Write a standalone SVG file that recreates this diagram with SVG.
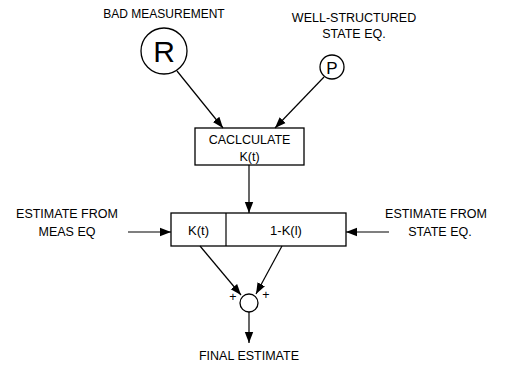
<svg xmlns="http://www.w3.org/2000/svg" width="505" height="369" viewBox="0 0 505 369">
<defs>
<marker id="ah" viewBox="0 0 10 10" refX="10" refY="5" markerWidth="11" markerHeight="11" markerUnits="userSpaceOnUse" orient="auto">
<path d="M0,1.2 L10,5 L0,8.8 Z" fill="#000"/>
</marker>
</defs>
<style>
text{font-family:"Liberation Sans",Arial,sans-serif;font-size:12.5px;fill:#000}
.c{text-anchor:middle}
.s{fill:#fff;stroke:#000;stroke-width:1.3}
.l{stroke:#000;stroke-width:1.2;fill:none;marker-end:url(#ah)}
</style>
<rect width="505" height="369" fill="#fff"/>
<g id="bad">
<text class="c" x="164" y="18" style="font-size:12px">BAD MEASUREMENT</text>
</g>
<g id="R">
<circle class="s" cx="164" cy="51" r="23"/>
<text class="c" x="164" y="62" style="font-size:30px">R</text>
</g>
<g id="wellstructured">
<text class="c" x="354" y="22">WELL-STRUCTURED</text>
<text class="c" x="354" y="38">STATE EQ.</text>
</g>
<g id="P">
<circle class="s" cx="332" cy="67" r="12"/>
<text class="c" x="332" y="73.5" style="font-size:17px">P</text>
</g>
<g id="calc">
<rect class="s" x="195" y="128" width="109" height="37"/>
<text class="c" x="249.5" y="143.5">CACLCULATE</text>
<text class="c" x="249.5" y="160.5">K(t)</text>
</g>
<g id="gainbox">
<rect class="s" x="171" y="213" width="175" height="33"/>
<line x1="226" y1="213" x2="226" y2="246" stroke="#000" stroke-width="1.2"/>
<text class="c" x="198.5" y="234.5" style="font-size:13px">K(t)</text>
<text class="c" x="286" y="234.5" style="font-size:13px">1-K(l)</text>
</g>
<g id="measlabel">
<text class="c" x="67" y="218">ESTIMATE FROM</text>
<text class="c" x="67" y="236">MEAS EQ</text>
</g>
<g id="statelabel">
<text class="c" x="436" y="218">ESTIMATE FROM</text>
<text class="c" x="440" y="236">STATE EQ.</text>
</g>
<g id="sum">
<circle class="s" cx="249" cy="303" r="9"/>
<text class="c" x="233" y="301">+</text>
<text class="c" x="266" y="299">+</text>
</g>
<g id="final">
<text class="c" x="249" y="360">FINAL ESTIMATE</text>
</g>
<g id="connectors">
<line class="l" x1="177" y1="71" x2="223" y2="128"/>
<line class="l" x1="324" y1="77" x2="275" y2="128"/>
<line class="l" x1="249" y1="165" x2="249" y2="213"/>
<line class="l" x1="128" y1="232" x2="171" y2="232"/>
<line class="l" x1="389" y1="232" x2="346" y2="232"/>
<line class="l" x1="200" y1="246" x2="241" y2="295"/>
<line class="l" x1="282" y1="246" x2="256" y2="294"/>
<line class="l" x1="249" y1="312" x2="249" y2="343"/>
</g>
</svg>
